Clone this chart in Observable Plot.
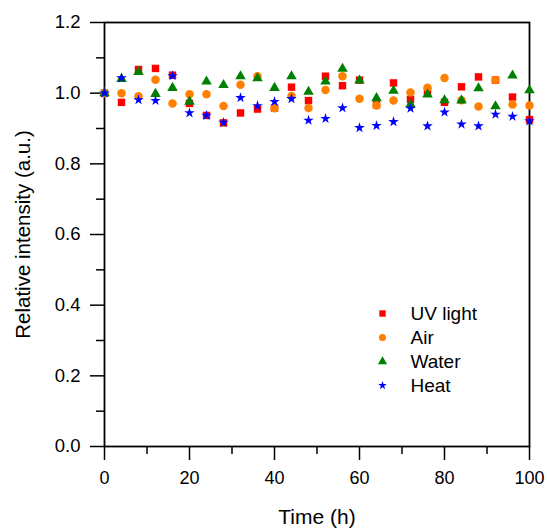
<!DOCTYPE html>
<html>
<head>
<meta charset="utf-8">
<script src="https://cdn.jsdelivr.net/npm/d3@7"></script>
<script src="https://cdn.jsdelivr.net/npm/@observablehq/plot@0.6"></script>
<style>
  html, body { margin: 0; padding: 0; background: #fff; }
  #chart { width: 547px; height: 528px; }
</style>
</head>
<body>
<div id="chart"></div>
<script>
// ---- data ----
const times = [0, 4, 8, 12, 16, 20, 24, 28, 32, 36, 40, 44, 48, 52, 56, 60, 64, 68, 72, 76, 80, 84, 88, 92, 96, 100];
const uvLight = [1.0, 0.974, 1.067, 1.070, 1.051, 0.971, 0.937, 0.916, 0.944, 0.955, 0.958, 1.017, 0.979, 1.048, 1.021, 1.037, 0.967, 1.029, 0.982, 1.004, 0.974, 1.018, 1.046, 1.037, 0.989, 0.925];
const air     = [1.0, 1.0, 0.991, 1.038, 0.971, 0.997, 0.997, 0.964, 1.024, 1.048, 0.957, 0.992, 0.958, 1.009, 1.048, 0.984, 0.965, 0.979, 1.002, 1.015, 1.043, 0.980, 0.962, 1.037, 0.968, 0.965];
const water   = [1.0, 1.040, 1.060, 0.998, 1.015, 0.976, 1.033, 1.023, 1.048, 1.042, 1.015, 1.048, 1.004, 1.033, 1.069, 1.036, 0.986, 1.007, 0.968, 0.996, 0.980, 0.979, 1.014, 0.963, 1.050, 1.008];
const heat    = [1.0, 1.043, 0.981, 0.979, 1.049, 0.944, 0.937, 0.917, 0.987, 0.964, 0.976, 0.984, 0.923, 0.928, 0.958, 0.902, 0.908, 0.919, 0.957, 0.907, 0.946, 0.912, 0.907, 0.940, 0.934, 0.921];
const seriesNames = ["UV light", "Air", "Water", "Heat"];
const xMajorTicks = [0, 20, 40, 60, 80, 100];
const xMinorTicks = [10, 30, 50, 70, 90];
const yMajorTicks = [0.0, 0.2, 0.4, 0.6, 0.8, 1.0, 1.2];
const yMinorTicks = [0.1, 0.3, 0.5, 0.7, 0.9, 1.1];
const xTitle = "Time (h)";
const yTitle = "Relative intensity (a.u.)";

// ---- styles ----
const styles = [
  {symbol: "square",   fill: "#ff0000", r: 4.2, lr: 3.6},
  {symbol: "circle",   fill: "#ff8000", r: 4.25, lr: 3.6},
  {symbol: "triangle", fill: "#008000", r: 3.9, lr: 3.4},
  {symbol: "star",     fill: "#0000ff", r: 3.3, lr: 2.7}
];
const values = [uvLight, air, water, heat];
const series = seriesNames.map((name, k) => ({
  name,
  ...styles[k],
  rows: times.map((t, i) => ({t, v: values[k][i]}))
}));

const font = "'Liberation Sans', Arial, sans-serif";
const marks = [];

// axes
marks.push(Plot.axisX(xMajorTicks, {tickSize: 14, tickPadding: 11, fontSize: 18, label: null, strokeWidth: 1.5}));
marks.push(Plot.axisX(xMinorTicks, {tickSize: 8, tickFormat: () => "", label: null, strokeWidth: 1.5}));
marks.push(Plot.axisY(yMajorTicks, {tickSize: 14, tickPadding: 10, fontSize: 18.5, label: null, tickFormat: d3.format(".1f"), strokeWidth: 1.5}));
marks.push(Plot.axisY(yMinorTicks, {tickSize: 8, tickFormat: () => "", label: null, strokeWidth: 1.5}));
marks.push(Plot.frame({stroke: "#000", strokeWidth: 1.8}));

// titles
marks.push(Plot.text([xTitle], {text: d => d, frameAnchor: "bottom", dy: 71, lineAnchor: "middle", textAnchor: "middle", fontSize: 21}));
marks.push(Plot.text([yTitle], {text: d => d, frameAnchor: "left", dx: -81, rotate: -90, lineAnchor: "middle", textAnchor: "middle", fontSize: 20.5}));

// data
for (const s of series) {
  marks.push(Plot.dot(s.rows, {x: "t", y: "v", symbol: () => s.symbol, fill: s.fill, r: s.r}));
}

// legend
series.forEach((s, i) => {
  marks.push(Plot.dot([s], {frameAnchor: "top-left", dx: 278, dy: 291 + i * 24, symbol: () => s.symbol, fill: s.fill, r: s.lr}));
  marks.push(Plot.text([s.name], {text: d => d, frameAnchor: "top-left", dx: 306, dy: 291 + i * 24, textAnchor: "start", lineAnchor: "middle", fontSize: 19}));
});

const chart = Plot.plot({
  width: 547,
  height: 528,
  marginLeft: 104,
  marginRight: 18,
  marginTop: 22,
  marginBottom: 82,
  x: {domain: [0, 100]},
  y: {domain: [0, 1.2]},
  symbol: {type: "identity"},
  style: {fontFamily: font, color: "#000", background: "#fff", overflow: "visible"},
  marks
});
document.getElementById("chart").appendChild(chart);
</script>
</body>
</html>
